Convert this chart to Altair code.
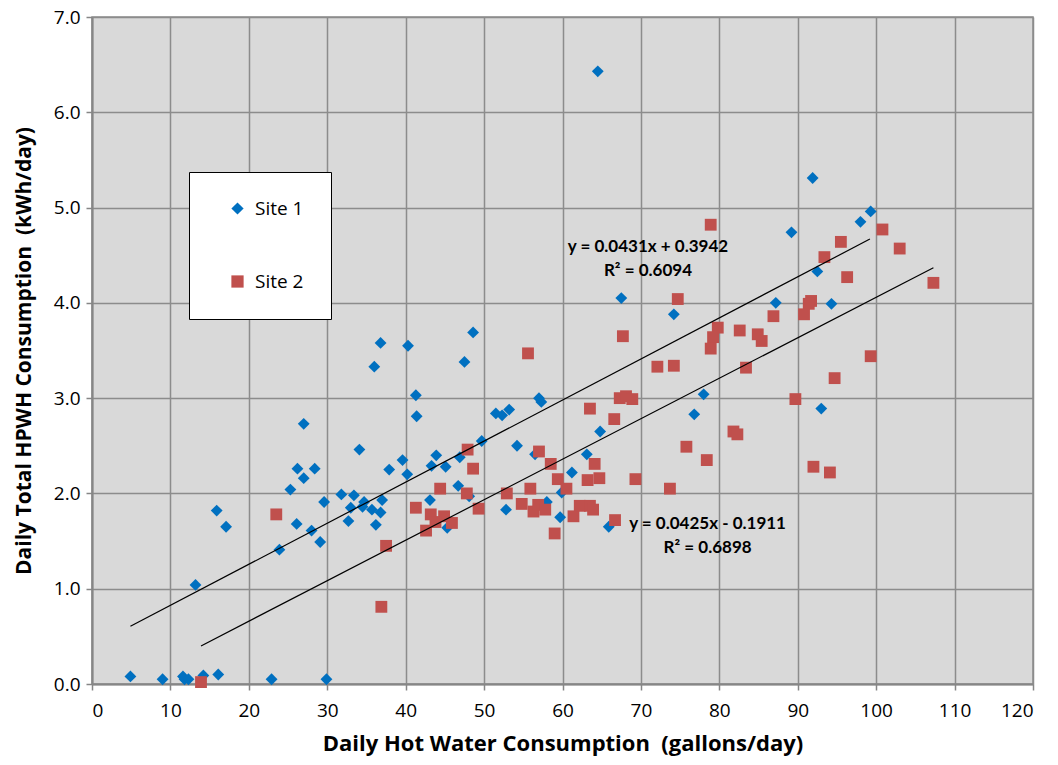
import altair as alt
import pandas as pd

# ---- data ----
site1_x = [4.9, 9.0, 11.6, 11.8, 12.3, 14.2, 16.1, 22.9, 29.9, 13.2, 15.9, 17.1,
           27.0, 26.2, 28.4, 27.0, 25.3, 29.6, 31.8, 26.1, 28.0, 29.1, 23.9,
           36.8, 40.3, 36.0, 48.6, 47.5, 41.3, 41.4, 34.1, 39.6, 37.9, 40.2,
           43.9, 43.3, 45.1, 46.9, 49.7, 51.5, 52.3, 53.2, 57.0, 57.3, 54.2,
           56.5, 61.2, 59.9, 33.4, 34.7, 34.5, 33.0, 37.0, 35.7, 36.8, 32.7,
           36.2, 46.7, 48.1, 43.1, 45.3, 52.8, 58.0, 59.7, 74.2, 87.2, 78.0,
           76.8, 64.8, 63.1, 65.9, 91.9, 99.3, 98.0, 89.2, 92.5, 94.3, 93.0,
           67.5, 64.5]
site1_y = [0.08, 0.05, 0.08, 0.05, 0.05, 0.09, 0.10, 0.05, 0.05, 1.04, 1.82, 1.65,
           2.73, 2.26, 2.26, 2.16, 2.04, 1.91, 1.99, 1.68, 1.61, 1.49, 1.41,
           3.58, 3.55, 3.33, 3.69, 3.38, 3.03, 2.81, 2.46, 2.35, 2.25, 2.20,
           2.40, 2.29, 2.28, 2.38, 2.55, 2.84, 2.82, 2.88, 3.00, 2.96, 2.50,
           2.41, 2.22, 2.01, 1.98, 1.91, 1.86, 1.85, 1.93, 1.83, 1.80, 1.71,
           1.67, 2.08, 1.97, 1.93, 1.64, 1.83, 1.91, 1.75, 3.88, 4.00, 3.04,
           2.83, 2.65, 2.41, 1.65, 5.31, 4.96, 4.85, 4.74, 4.33, 3.99, 2.89,
           4.05, 6.43]

site2_x = [13.9, 23.5, 55.6, 47.9, 48.6, 44.4, 47.8, 41.3, 43.2, 44.9, 45.9, 43.8,
           42.6, 49.3, 37.5, 36.9, 52.9, 55.9, 57.0, 58.5, 59.4, 60.5, 54.8,
           56.3, 56.9, 57.8, 59.0, 61.4, 67.7, 72.1, 74.2, 79.8, 79.2, 78.9,
           82.6, 84.9, 85.4, 86.9, 83.4, 67.3, 68.1, 68.9, 63.5, 66.6, 64.1,
           63.2, 64.7, 69.3, 73.7, 75.8, 78.4, 81.8, 82.3, 89.7, 62.2, 63.5,
           63.9, 66.7, 100.8, 95.5, 103.0, 93.4, 96.3, 107.3, 91.7, 91.4, 90.8,
           99.3, 94.7, 92.0, 94.1, 78.9, 74.7]
site2_y = [0.02, 1.78, 3.47, 2.46, 2.26, 2.05, 2.00, 1.85, 1.78, 1.76, 1.69, 1.70,
           1.61, 1.84, 1.45, 0.81, 2.00, 2.05, 2.44, 2.31, 2.15, 2.05, 1.89,
           1.81, 1.88, 1.83, 1.58, 1.76, 3.65, 3.33, 3.34, 3.74, 3.64, 3.52,
           3.71, 3.67, 3.60, 3.86, 3.32, 3.00, 3.02, 2.99, 2.89, 2.78, 2.31,
           2.14, 2.16, 2.15, 2.05, 2.49, 2.35, 2.65, 2.62, 2.99, 1.87, 1.87,
           1.83, 1.72, 4.77, 4.64, 4.57, 4.48, 4.27, 4.21, 4.02, 3.99, 3.88,
           3.44, 3.21, 2.28, 2.22, 4.82, 4.04]

sites = ["Site 1", "Site 2"]
site_colors = ["#0070C0", "#C0504D"]
site_shapes = ["diamond", "square"]

trend_slope = [0.0431, 0.0425]
trend_intercept = [0.3942, -0.1911]
trend_x_min = [4.9, 13.9]
trend_x_max = [99.2, 107.3]

eq_text = ["y = 0.0431x + 0.3942", "R\u00b2 = 0.6094", "y = 0.0425x - 0.1911", "R\u00b2 = 0.6898"]
eq_x = [70.9, 70.9, 78.5, 78.5]
eq_y = [4.59, 4.33, 1.68, 1.43]

x_ticks = list(range(0, 121, 10))
y_ticks = [0, 1, 2, 3, 4, 5, 6, 7]

x_title = "Daily Hot Water Consumption \u00a0(gallons/day)"
y_title = "Daily Total HPWH Consumption \u00a0(kWh/day)"

# ---- tables ----
pts = pd.concat([
    pd.DataFrame({"x": site1_x, "y": site1_y, "site": sites[0]}),
    pd.DataFrame({"x": site2_x, "y": site2_y, "site": sites[1]}),
], ignore_index=True)

trend_rows = []
for i, s in enumerate(sites):
    for xv in (trend_x_min[i], trend_x_max[i]):
        trend_rows.append({"site": s, "x": xv, "m": trend_slope[i], "b": trend_intercept[i]})
trend = pd.DataFrame(trend_rows)

eqs = pd.DataFrame({"x": eq_x, "y": eq_y, "label": eq_text})

FONT = "Open Sans"
EQ_FONT = "Lato"

x_enc = alt.X("x:Q", scale=alt.Scale(domain=[0, 120], nice=False, zero=False),
              axis=alt.Axis(values=x_ticks, format="d", title=x_title,
                            titleFontSize=22, titlePadding=13))
y_enc = alt.Y("y:Q", scale=alt.Scale(domain=[0, 7], nice=False),
              axis=alt.Axis(values=y_ticks, format=".1f", title=y_title,
                            titleFontSize=21, titlePadding=19))

legend = alt.Legend(
    title=None, orient="none", legendX=97, legendY=155,
    fillColor="white", strokeColor="black", padding=27,
    symbolOffset=12, symbolSize=150, symbolStrokeWidth=0,
    labelFont=FONT, labelFontSize=19, labelColor="black", labelOffset=8,
    rowPadding=53, labelExpr="datum.label + '\u00a0\u00a0'",
)

points = alt.Chart(pts).mark_point(filled=True, size=140, opacity=1).encode(
    x=x_enc, y=y_enc,
    color=alt.Color("site:N", scale=alt.Scale(domain=sites, range=site_colors), legend=legend),
    shape=alt.Shape("site:N", scale=alt.Scale(domain=sites, range=site_shapes), legend=legend),
)

lines = alt.Chart(trend).transform_calculate(
    yy="datum.m * datum.x + datum.b"
).mark_line(color="black", strokeWidth=1.2).encode(
    x="x:Q", y="yy:Q", detail="site:N"
)

labels = alt.Chart(eqs).mark_text(
    font=EQ_FONT, fontWeight="bold", fontSize=17, color="black", align="center", baseline="middle"
).encode(x="x:Q", y="y:Q", text="label:N")

chart = alt.layer(points, lines, labels).properties(
    width=941, height=667,
    autosize=alt.AutoSizeParams(type="none"),
    padding={"left": 92, "top": 17, "right": 25, "bottom": 81},
    background="white",
).configure_view(
    fill="#D9D9D9", stroke="#8C8C8C", strokeWidth=1.5
).configure_axis(
    grid=True, gridColor="#8C8C8C", gridWidth=1.5,
    domainColor="#868686", domainWidth=2,
    tickColor="#868686", tickSize=6, tickWidth=1.5,
    labelFont=FONT, labelFontSize=19, labelColor="black",
    titleFont=FONT, titleFontWeight="bold", titleColor="black",
).configure_axisX(
    labelPadding=11
).configure_axisY(
    labelPadding=6
)

chart.save("out.html", embed_options={"renderer": "svg", "actions": False})
